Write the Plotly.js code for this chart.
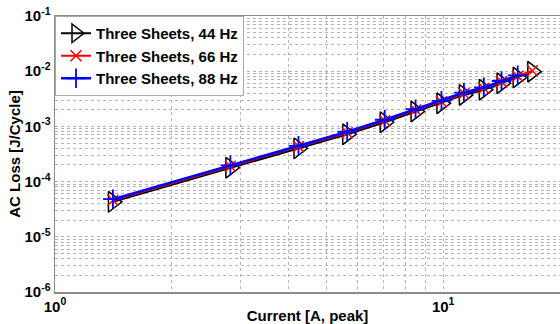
<!DOCTYPE html>
<html>
<head>
<meta charset="utf-8">
<script src="https://cdn.plot.ly/plotly-3.0.1.min.js"></script>
<style>
  html, body { margin: 0; padding: 0; background: #fff; }
  #chart { width: 560px; height: 324px; }
</style>
</head>
<body>
<div id="chart"></div>
<script>
// Peak current (A) for each measurement step
const currentPeak = [1.41, 2.83, 4.24, 5.66, 7.07, 8.49, 9.90, 11.31, 12.73, 14.14, 15.56, 16.97];

// AC loss per cycle (J/Cycle) for three stacked sheets
const loss44Hz = [4.3e-5, 1.78e-4, 4.0e-4, 7.2e-4, 1.19e-3, 1.86e-3, 2.62e-3, 3.72e-3, 4.62e-3, 6.05e-3, 7.7e-3, 9.8e-3];
const loss66Hz = [4.6e-5, 1.90e-4, 4.3e-4, 7.7e-4, 1.27e-3, 1.98e-3, 2.80e-3, 3.95e-3, 4.90e-3, 6.40e-3, 8.1e-3, 1.02e-2];
const loss88Hz = [4.8e-5, 1.97e-4, 4.45e-4, 8.0e-4, 1.32e-3, 2.05e-3, 2.90e-3, 4.10e-3, 5.10e-3, 6.65e-3, 8.4e-3];

const seriesNames = ['Three Sheets, 44 Hz', 'Three Sheets, 66 Hz', 'Three Sheets, 88 Hz'];

// Axis decades and labels
const xDecades = [1, 10];
const xDecadeLabels = ['10<sup>0</sup>', '10<sup>1</sup>'];
const yDecades = [1e-6, 1e-5, 1e-4, 1e-3, 1e-2, 1e-1];
const yDecadeLabels = ['10<sup>-6</sup>', '10<sup>-5</sup>', '10<sup>-4</sup>', '10<sup>-3</sup>', '10<sup>-2</sup>', '10<sup>-1</sup>'];
const minorSteps = [2, 3, 4, 5, 6, 7, 8, 9];

// Expand decades into major + minor tick positions (labels only on decades)
function logTicks(decades, labels, last) {
  const vals = [], text = [];
  decades.forEach((d, i) => {
    vals.push(d); text.push(labels[i]);
    minorSteps.forEach(m => {
      const v = d * m;
      if (v <= last) { vals.push(v); text.push(''); }
    });
  });
  return {vals, text};
}
const xt = logTicks(xDecades, xDecadeLabels, 20);
const yt = logTicks(yDecades.slice(0, -1), yDecadeLabels.slice(0, -1), 0.1);
yt.vals.push(yDecades[5]); yt.text.push(yDecadeLabels[5]);

const traces = [
  {
    x: currentPeak, y: loss44Hz, name: seriesNames[0], mode: 'lines+markers',
    line: {color: '#000000', width: 2},
    marker: {symbol: 'triangle-right-open', size: 18, color: '#000000', line: {width: 1.5, color: '#000000'}}
  },
  {
    x: currentPeak, y: loss66Hz, name: seriesNames[1], mode: 'lines+markers',
    line: {color: '#ff0000', width: 2},
    marker: {symbol: 'x-thin-open', size: 11, color: '#ff0000', line: {width: 1.5, color: '#ff0000'}}
  },
  {
    x: currentPeak.slice(0, loss88Hz.length), y: loss88Hz, name: seriesNames[2], mode: 'lines+markers',
    line: {color: '#0000ff', width: 2.5},
    marker: {symbol: 'cross-thin-open', size: 14, color: '#0000ff', line: {width: 1.8, color: '#0000ff'}}
  }
];

const fontFam = 'Liberation Sans, Arial, sans-serif';
const gridCol = '#b4b4b4';

const layout = {
  width: 560, height: 324,
  margin: {l: 55, r: 0, t: 16, b: 32},
  paper_bgcolor: '#ffffff', plot_bgcolor: '#ffffff',
  font: {family: fontFam, color: '#000000'},
  showlegend: true,
  legend: {
    x: 0, y: 1, xanchor: 'left', yanchor: 'top',
    bgcolor: '#ffffff', bordercolor: '#a8a8a8', borderwidth: 1,
    font: {family: fontFam, size: 15, weight: 'bold', color: '#000000'},
    itemwidth: 30, tracegroupgap: 0
  },
  xaxis: {
    type: 'log', range: [0, Math.log10(20)],
    tickmode: 'array', tickvals: xt.vals, ticktext: xt.text,
    tickfont: {family: fontFam, size: 15, weight: 'bold'},
    showgrid: true, gridcolor: gridCol, griddash: 'dot', gridwidth: 1,
    showline: true, linecolor: '#8c8c8c', linewidth: 1.5, mirror: true,
    ticks: '', zeroline: false,
    title: {text: 'Current [A, peak]', font: {family: fontFam, size: 15, weight: 'bold'}, standoff: 6},
    automargin: false
  },
  yaxis: {
    type: 'log', range: [-6, -1],
    tickmode: 'array', tickvals: yt.vals, ticktext: yt.text,
    tickfont: {family: fontFam, size: 15, weight: 'bold'},
    showgrid: true, gridcolor: gridCol, griddash: 'dot', gridwidth: 1,
    showline: true, linecolor: '#8c8c8c', linewidth: 1.5, mirror: true,
    ticks: '', zeroline: false,
    title: {text: 'AC Loss [J/Cycle]', font: {family: fontFam, size: 15, weight: 'bold'}, standoff: 0},
    automargin: false
  }
};

Plotly.newPlot('chart', traces, layout, {displayModeBar: false, staticPlot: true});
</script>
</body>
</html>
